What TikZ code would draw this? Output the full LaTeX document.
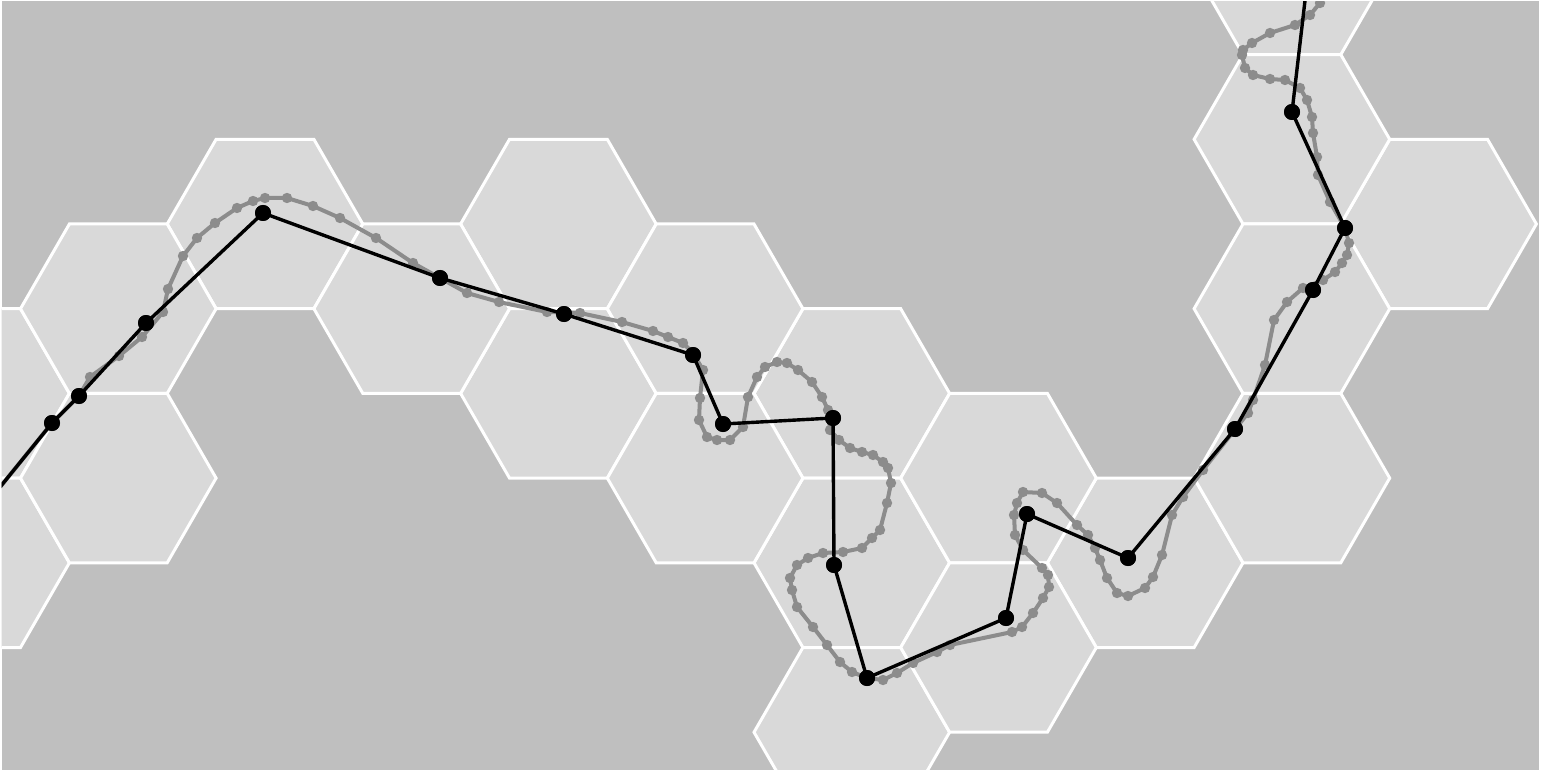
\documentclass[tikz,border=0pt]{standalone}
\begin{document}
\begin{tikzpicture}[x=0.5pt,y=-0.5pt,
  bgpanel/.style={fill=bgdark,draw=none},
  hexcell/.style={fill=hexlight,draw=white,line width=1.5pt,line join=miter},
  gline/.style={draw=pathgray,line width=2pt,line join=round},
  gdot/.style={fill=pathgray},
  bline/.style={draw=black,line width=1.7pt,line join=round},
  bdot/.style={circle,fill=black,inner sep=0pt,minimum size=8pt}]
\definecolor{bgdark}{RGB}{191,191,191}
\definecolor{hexlight}{RGB}{217,217,217}
\definecolor{pathgray}{RGB}{140,140,140}
\useasboundingbox (0,0) rectangle (1541,770);
\fill[white] (0,0) rectangle (1541,770);
\fill[bgpanel] (1.5,1.5) rectangle (1538.5,770);
\begin{scope}
\clip (1.5,1.5) rectangle (1538.5,770);
% hexagonal cells
\foreach \i/\k in {0/1,0/2,2/0,4/0,4/1,6/1,6/2,6/3,8/2,10/0,1/0,1/1,3/0,5/0,5/1,7/1,7/2,9/-2,9/-1,9/0,9/1}{
  \pgfmathsetmacro\cx{-28.4+146.7*\i}
  \pgfmathsetmacro\cy{224+169.4*\k+84.7*mod(\i,2)}
  \draw[hexcell] (\cx+97.8,\cy) -- (\cx+48.9,\cy+84.7) -- (\cx-48.9,\cy+84.7) -- (\cx-97.8,\cy) -- (\cx-48.9,\cy-84.7) -- (\cx+48.9,\cy-84.7) -- cycle;
}
% gray path
\foreach \x/\y [count=\n] in {-8/497,52/423,79/396,90/377,119/356,142/337,163/312,168/289,183/256,197/238,215/223,237/208,253/201,265/198,287/198,313/206,340/218,376/238,413/263,440/278,467/293,499/302,547/312,580/313,622/322,653/331,668/337,683/343,693/353,703/370,700/398,699/420,707/437,717/440,730/440,743/427,748/397,757/377,765/367,777/362,787/363,798/370,812/382,822/397,828/410,830/430,839/440,850/448,862/452,873/455,883/462,888/468,891/483,887/503,880/530,872/538,862/548,843/552,823/553,808/558,797/565,790/578,792/590,797/607,813/627,827/645,840/662,852/672,867/678,883/680,897/673,913/663,937/652,950/645,1012/632,1022/627,1033/613,1043/598,1049/587,1048/575,1042/568,1023/550,1015/535,1014/515,1017/503,1023/492,1042/493,1057/503,1077/525,1088/535,1095/548,1100/560,1107/578,1117/593,1128/596,1145/588,1153/577,1162/555,1172/515,1183/497,1203/470,1248/413,1253/400,1265/365,1274/320,1287/302,1303/288,1323/280,1335/272,1342/263,1347/255,1349/243,1345/228,1330/202,1318/175,1317/157,1313/133,1312/117,1307/100,1300/88,1285/80,1270/79,1253/75,1245/68,1242/55,1243/50,1252/43,1270/33,1295/25,1310/15,1320/3,1326/-8}{
  \coordinate (g\n) at (\x,\y);
  \xdef\gcount{\n}
}
\draw[gline] (g1) \foreach \n in {2,...,\gcount}{ -- (g\n) };
\foreach \n in {2,...,\gcount}{ \fill[gdot] (g\n) circle (2.6pt); }
% black path
\coordinate (b0) at (-8,497);
\node[bdot] (b1) at (52,423) {};
\node[bdot] (b2) at (79,396) {};
\node[bdot] (b3) at (146,323) {};
\node[bdot] (b4) at (263,213) {};
\node[bdot] (b5) at (440,278) {};
\node[bdot] (b6) at (564,314) {};
\node[bdot] (b7) at (693,355) {};
\node[bdot] (b8) at (723,424) {};
\node[bdot] (b9) at (833,418) {};
\node[bdot] (b10) at (834,565) {};
\node[bdot] (b11) at (867,678) {};
\node[bdot] (b12) at (1006,618) {};
\node[bdot] (b13) at (1027,514) {};
\node[bdot] (b14) at (1128,558) {};
\node[bdot] (b15) at (1235,429) {};
\node[bdot] (b16) at (1313,290) {};
\node[bdot] (b17) at (1345,228) {};
\node[bdot] (b18) at (1292,112) {};
\coordinate (b19) at (1306,-8);
\draw[bline] (b0) \foreach \n in {1,...,19}{ -- (b\n.center) };
\foreach \n in {1,...,18}{ \fill[black] (b\n) circle (4pt); }
\end{scope}
\end{tikzpicture}
\end{document}
